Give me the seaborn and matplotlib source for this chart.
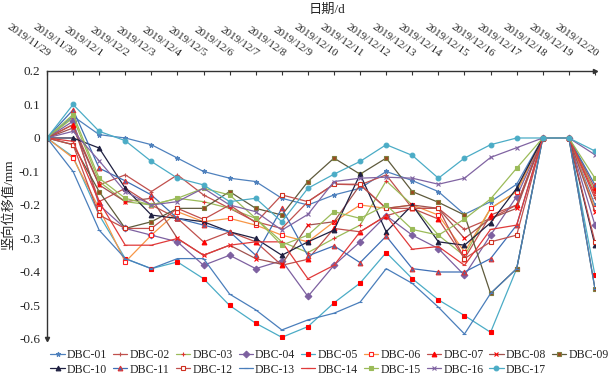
import numpy as np
import pandas as pd
import matplotlib
matplotlib.use("Agg")
import matplotlib.pyplot as plt
import seaborn as sns

# dates on the x axis (one reading per day)
dates = ["2019/11/29", "2019/11/30"] + ["2019/12/%d" % d for d in range(1, 21)]

# vertical displacement (mm) per monitoring point
dbc01 = [0, 0.065, 0.01, 0.0, -0.02, -0.06, -0.10, -0.12, -0.13, -0.18, -0.20, -0.17, -0.15, -0.10, -0.127, -0.16, -0.228, -0.19, -0.138, 0, 0, -0.20]
dbc02 = [0, 0.04, -0.14, -0.11, -0.16, -0.11, -0.17, -0.21, -0.25, -0.27, -0.19, -0.138, -0.14, -0.11, -0.21, -0.21, -0.273, -0.24, -0.20, 0, 0, -0.18]
dbc03 = [0, 0.06, -0.13, -0.19, -0.20, -0.18, -0.19, -0.21, -0.24, -0.31, -0.342, -0.30, -0.26, -0.128, -0.20, -0.29, -0.352, -0.21, -0.16, 0, 0, -0.16]
dbc04 = [0, 0.05, -0.20, -0.27, -0.29, -0.31, -0.38, -0.35, -0.39, -0.366, -0.473, -0.38, -0.31, -0.232, -0.29, -0.33, -0.41, -0.29, -0.175, 0, 0, -0.26]
dbc05 = [0, -0.056, -0.23, -0.36, -0.39, -0.37, -0.42, -0.50, -0.553, -0.595, -0.563, -0.492, -0.433, -0.342, -0.42, -0.483, -0.53, -0.58, -0.39, 0, 0, -0.41]
dbc06 = [0, -0.06, -0.21, -0.37, -0.29, -0.22, -0.25, -0.24, -0.26, -0.29, -0.31, -0.25, -0.20, -0.21, -0.20, -0.23, -0.34, -0.21, -0.16, 0, 0, -0.21]
dbc07 = [0, 0.04, -0.19, -0.15, -0.20, -0.24, -0.31, -0.28, -0.31, -0.38, -0.362, -0.27, -0.28, -0.232, -0.21, -0.242, -0.36, -0.23, -0.20, 0, 0, -0.15]
dbc08 = [0, 0.03, -0.14, -0.19, -0.18, -0.30, -0.35, -0.32, -0.36, -0.377, -0.26, -0.25, -0.14, -0.21, -0.20, -0.21, -0.30, -0.24, -0.21, 0, 0, -0.22]
dbc09 = [0, -0.02, -0.16, -0.27, -0.25, -0.21, -0.21, -0.16, -0.21, -0.23, -0.13, -0.06, -0.108, -0.06, -0.16, -0.192, -0.23, -0.464, -0.39, 0, 0, -0.45]
dbc10 = [0, 0.0, -0.03, -0.15, -0.23, -0.24, -0.25, -0.28, -0.30, -0.35, -0.31, -0.275, -0.108, -0.28, -0.20, -0.31, -0.32, -0.253, -0.15, 0, 0, -0.32]
dbc11 = [0, 0.084, -0.09, -0.128, -0.17, -0.24, -0.26, -0.28, -0.35, -0.21, -0.352, -0.322, -0.372, -0.293, -0.39, -0.40, -0.40, -0.36, -0.26, 0, 0, -0.14]
dbc12 = [0, -0.02, -0.23, -0.27, -0.27, -0.21, -0.243, -0.20, -0.253, -0.17, -0.19, -0.138, -0.138, -0.21, -0.21, -0.21, -0.36, -0.31, -0.29, 0, 0, -0.31]
dbc13 = [0, -0.10, -0.275, -0.36, -0.39, -0.36, -0.36, -0.466, -0.513, -0.573, -0.543, -0.523, -0.49, -0.39, -0.434, -0.505, -0.585, -0.464, -0.39, 0, 0, -0.45]
dbc14 = [0, -0.01, -0.19, -0.32, -0.32, -0.30, -0.35, -0.32, -0.31, -0.31, -0.42, -0.38, -0.28, -0.232, -0.332, -0.324, -0.38, -0.273, -0.26, 0, 0, -0.17]
dbc15 = [0, 0.07, -0.12, -0.18, -0.20, -0.18, -0.15, -0.17, -0.24, -0.32, -0.29, -0.22, -0.24, -0.20, -0.273, -0.29, -0.242, -0.182, -0.09, 0, 0, -0.12]
dbc16 = [0, 0.02, -0.068, -0.16, -0.20, -0.19, -0.15, -0.20, -0.22, -0.275, -0.228, -0.13, -0.12, -0.117, -0.12, -0.138, -0.12, -0.058, -0.029, 0, 0, -0.05]
dbc17 = [0, 0.10, 0.02, -0.008, -0.07, -0.12, -0.14, -0.19, -0.18, -0.25, -0.15, -0.108, -0.07, -0.02, -0.052, -0.12, -0.06, -0.02, 0, 0, 0, -0.039]

names = ["DBC-%02d" % i for i in range(1, 18)]
values = [dbc01, dbc02, dbc03, dbc04, dbc05, dbc06, dbc07, dbc08, dbc09,
          dbc10, dbc11, dbc12, dbc13, dbc14, dbc15, dbc16, dbc17]

yticks = [0.2, 0.1, 0, -0.1, -0.2, -0.3, -0.4, -0.5, -0.6]
ytick_labels = ["0.2", "0.1", "0", "-0.1", "-0.2", "-0.3", "-0.4", "-0.5", "-0.6"]

# line colour, marker, marker face, marker edge (Excel-like look)
styles = {
    "DBC-01": ("#4F81BD", "*", "#4F81BD", "#4F81BD"),
    "DBC-02": ("#C0504D", "+", "#C0504D", "#C0504D"),
    "DBC-03": ("#9BBB59", "+", "#E03030", "#E03030"),
    "DBC-04": ("#7D60A0", "D", "#7D60A0", "#7D60A0"),
    "DBC-05": ("#4BACC6", "s", "#FF0000", "#FF0000"),
    "DBC-06": ("#F79646", "s", "white", "#FF2020"),
    "DBC-07": ("#C0504D", "^", "#FF0000", "#FF0000"),
    "DBC-08": ("#A0524E", "x", "#FF0000", "#FF0000"),
    "DBC-09": ("#5E5A3C", "s", "#9A4A20", "#7F7F3F"),
    "DBC-10": ("#1F2041", "^", "#1F2041", "#1F2041"),
    "DBC-11": ("#3F6FB5", "^", "#3F6FB5", "#E03030"),
    "DBC-12": ("#C0504D", "s", "white", "#D03020"),
    "DBC-13": ("#4A7EBB", "_", "#4A7EBB", "#4A7EBB"),
    "DBC-14": ("#E03A3A", "_", "#E03A3A", "#E03A3A"),
    "DBC-15": ("#9BBB59", "s", "#9BBB59", "#9BBB59"),
    "DBC-16": ("#8064A2", "x", "#8064A2", "#8064A2"),
    "DBC-17": ("#4BACC6", "o", "#4BACC6", "#4BACC6"),
}

rows = []
for name, vals in zip(names, values):
    for i, v in enumerate(vals):
        rows.append({"series": name, "idx": i, "val": v})
df = pd.DataFrame(rows)

sns.set_style("white")
plt.rcParams["font.family"] = ["Liberation Serif", "Noto Sans CJK SC"]

fig = plt.figure(figsize=(6.14, 3.77), dpi=100)
ax = fig.add_axes([0.0765, 0.1008, 0.8925, 0.7109])

for name in names:
    c, m, fc, ec = styles[name]
    sub = df[df["series"] == name]
    sns.lineplot(data=sub, x="idx", y="val", ax=ax, color=c, marker=m,
                 markersize=3.4, mfc=fc, mec=ec, mew=0.8, linewidth=0.9,
                 label=name, legend=False)

ax.set_xlim(0, 21)
ax.set_ylim(-0.6, 0.2)
ax.set_yticks(yticks)
ax.set_yticklabels(ytick_labels, fontsize=9.5)
ax.xaxis.tick_top()
ax.set_xticks(range(len(dates)))
ax.set_xticklabels(dates, rotation=-35, ha="right", va="bottom",
                   rotation_mode="anchor", fontsize=8)
ax.tick_params(axis="x", direction="in", length=3, pad=9, color="#333333")
ax.tick_params(axis="y", direction="in", length=3, pad=5, color="#333333")
ax.set_xlabel("")
ax.set_ylabel("竖向位移值/mm", fontsize=9.5, labelpad=3)

for s in ["right", "bottom"]:
    ax.spines[s].set_visible(False)
for s in ["top", "left"]:
    ax.spines[s].set_color("#333333")
    ax.spines[s].set_linewidth(1.0)

# arrow heads on the axes
ax.plot(1, 1, ">", color="#333333", ms=3, transform=ax.transAxes, clip_on=False)
ax.plot(0, 0, "v", color="#333333", ms=3, transform=ax.transAxes, clip_on=False)

fig.text(0.533, 0.99, "日期/d", ha="center", va="top", fontsize=9.5)

# legend filled row by row: 01-09 on the first row, 10-17 on the second
handles, labels = ax.get_legend_handles_labels()
order = []
for j in range(8):
    order += [j, j + 9]
order.append(8)
fig.legend([handles[i] for i in order], [labels[i] for i in order],
           loc="lower center", bbox_to_anchor=(0.537, -0.018),
           ncol=9, frameon=False, fontsize=8.5, handlelength=1.2,
           columnspacing=0.5, handletextpad=0.2, labelspacing=0.2,
           borderpad=0.2)

fig.savefig("out.png", dpi=100)
